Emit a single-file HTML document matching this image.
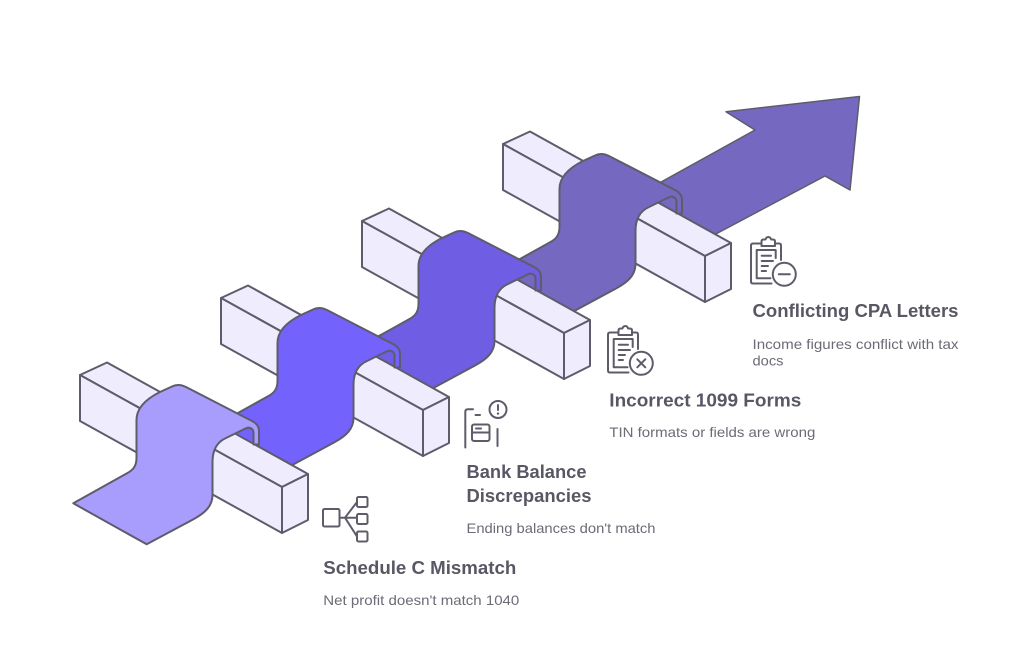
<!DOCTYPE html>
<html>
<head>
<meta charset="utf-8">
<style>
  html,body{margin:0;padding:0;background:#ffffff;}
  svg{display:block;}
  .blk polygon{fill:#efedfd;stroke:#5e5c6a;stroke-width:2;stroke-linejoin:round;}
  .rib{stroke:#5e5c6a;stroke-width:2;stroke-linejoin:round;}
  .ic{fill:none;stroke:#5e5c6a;stroke-width:2;stroke-linecap:round;stroke-linejoin:round;}
  .t{font-family:"Liberation Sans",Arial,sans-serif;font-weight:bold;font-size:18px;fill:#585764;}
  .d{font-family:"Liberation Sans",Arial,sans-serif;font-size:14px;fill:#6c6b76;}
</style>
</head>
<body>
<svg width="1024" height="663" viewBox="0 0 1024 663" xmlns="http://www.w3.org/2000/svg">
  <defs>
    <g id="block" class="blk">
      <polygon points="80,375 107,362.5 308,474 282,487"/>
      <polygon points="80,375 282,487 282,533 80,421"/>
      <polygon points="282,487 308,474 308,520 282,533"/>
    </g>
  </defs>

  <!-- Arrow (final ground segment) -->
  <path d="M 617.3 206.3 L 690.7 247.3 L 825 176 L 850 190 L 859.5 96.5 L 726 111.7 L 755 130 Z" fill="#7568c0" stroke="#5e5c6a" stroke-width="1.5" stroke-linejoin="round"/>

  <!-- Block 4 + ribbon 4 -->
  <use href="#block" transform="translate(423,-231)"/>
  <path class="rib" fill="#7568c0" transform="translate(423,-231)" d="M 53.3 514.3 L 126.7 555.3 L 193 519.5 C 205 513 212.5 506 212.5 495 L 212.5 462 C 212.5 450 217 442 226 438 L 245.5 428.5 C 249.5 426.5 253.5 428.5 253.5 433 L 253.5 444.5 L 259 444.5 L 259 431 C 259 426 256 423 252 421 L 186 387 C 181 384.5 176 384.5 172 386.5 L 160 392 C 146 399 136.5 408 136.5 420 L 136.5 458 C 136.5 466 133 470 127.5 473 Z"/>

  <!-- Block 3 + ribbon 3 -->
  <use href="#block" transform="translate(282,-154)"/>
  <path class="rib" fill="#6f5de3" transform="translate(282,-154)" d="M 53.3 514.3 L 126.7 555.3 L 193 519.5 C 205 513 212.5 506 212.5 495 L 212.5 462 C 212.5 450 217 442 226 438 L 245.5 428.5 C 249.5 426.5 253.5 428.5 253.5 433 L 253.5 444.5 L 259 444.5 L 259 431 C 259 426 256 423 252 421 L 186 387 C 181 384.5 176 384.5 172 386.5 L 160 392 C 146 399 136.5 408 136.5 420 L 136.5 458 C 136.5 466 133 470 127.5 473 Z"/>

  <!-- Block 2 + ribbon 2 -->
  <use href="#block" transform="translate(141,-77)"/>
  <path class="rib" fill="#7362fb" transform="translate(141,-77)" d="M 53.3 514.3 L 126.7 555.3 L 193 519.5 C 205 513 212.5 506 212.5 495 L 212.5 462 C 212.5 450 217 442 226 438 L 245.5 428.5 C 249.5 426.5 253.5 428.5 253.5 433 L 253.5 444.5 L 259 444.5 L 259 431 C 259 426 256 423 252 421 L 186 387 C 181 384.5 176 384.5 172 386.5 L 160 392 C 146 399 136.5 408 136.5 420 L 136.5 458 C 136.5 466 133 470 127.5 473 Z"/>

  <!-- Block 1 + ribbon 1 -->
  <use href="#block"/>
  <path class="rib" fill="#a89cfd" d="M 73.3 503.3 L 146.7 544.3 L 193 519.5 C 205 513 212.5 506 212.5 495 L 212.5 462 C 212.5 450 217 442 226 438 L 245.5 428.5 C 249.5 426.5 253.5 428.5 253.5 433 L 253.5 444.5 L 259 444.5 L 259 431 C 259 426 256 423 252 421 L 186 387 C 181 384.5 176 384.5 172 386.5 L 160 392 C 146 399 136.5 408 136.5 420 L 136.5 458 C 136.5 466 133 470 127.5 473 Z"/>

  <!-- Icon: Schedule C (hierarchy) -->
  <g class="ic">
    <rect x="323" y="509" width="16.5" height="17.5" rx="1.5"/>
    <rect x="357" y="497" width="10.5" height="10" rx="1.5"/>
    <rect x="357" y="514" width="10.5" height="10" rx="1.5"/>
    <rect x="357" y="531.5" width="10.5" height="10" rx="1.5"/>
    <path d="M 339.5 517.7 H 345 M 345 517.7 L 357 502 M 345 517.7 H 357 M 345 517.7 L 357 536.5"/>
  </g>

  <!-- Icon: Bank Balance -->
  <g class="ic">
    <path d="M 465.3 447.5 V 412 Q 465.3 409.3 468 409.3 H 473"/>
    <path d="M 475.5 415 H 480"/>
    <circle cx="498" cy="409.5" r="8.5"/>
    <path d="M 498 405 V 410"/>
    <rect x="472" y="424.5" width="17.5" height="16.5" rx="2"/>
    <path d="M 472 432.5 H 489.5 M 476 428.5 H 481"/>
    <path d="M 497.5 429 V 446"/>
  </g>
  <circle cx="498" cy="413.6" r="1.2" fill="#5e5c6a"/>

  <!-- Icon: Conflicting CPA Letters (clipboard minus) -->
  <g id="clip" class="ic">
    <path d="M 761.5 243.5 H 753 Q 751 243.5 751 245.5 V 281.5 Q 751 283.5 753 283.5 H 771.5"/>
    <path d="M 775 243.5 H 779 Q 781 243.5 781 245.5 V 260"/>
    <path d="M 761.5 246 V 241.5 Q 761.5 239.5 763.5 239.5 H 765.5 Q 766.3 237 768.3 237 Q 770.3 237 771.1 239.5 H 773 Q 775 239.5 775 241.5 V 246 Z"/>
    <path d="M 770.5 278.3 H 756.7 V 250 H 775.7 V 258"/>
    <path d="M 761.7 255.7 H 771 M 761.7 261 H 773 M 761.7 266 H 768 M 761.7 271 H 766"/>
  </g>
  <circle cx="784.3" cy="274.3" r="11.5" fill="#ffffff" stroke="#5e5c6a" stroke-width="2"/>
  <path d="M 778.8 274.3 H 789.8" class="ic"/>

  <!-- Icon: Incorrect 1099 Forms (clipboard x) -->
  <use href="#clip" transform="translate(-143,89)"/>
  <circle cx="641.3" cy="363.3" r="11.5" fill="#ffffff" stroke="#5e5c6a" stroke-width="2"/>
  <path d="M 637.3 359.3 L 645.3 367.3 M 645.3 359.3 L 637.3 367.3" class="ic"/>

  <!-- Text -->
  <text class="t" x="752.5" y="317" textLength="206" lengthAdjust="spacingAndGlyphs">Conflicting CPA Letters</text>
  <text class="d" x="752.5" y="349" textLength="206" lengthAdjust="spacingAndGlyphs">Income figures conflict with tax</text>
  <text class="d" x="752.5" y="365.5" textLength="31" lengthAdjust="spacingAndGlyphs">docs</text>

  <text class="t" x="609.3" y="406.7" textLength="192" lengthAdjust="spacingAndGlyphs">Incorrect 1099 Forms</text>
  <text class="d" x="609.3" y="437" textLength="206" lengthAdjust="spacingAndGlyphs">TIN formats or fields are wrong</text>

  <text class="t" x="466.5" y="478" textLength="120" lengthAdjust="spacingAndGlyphs">Bank Balance</text>
  <text class="t" x="466.5" y="502" textLength="125" lengthAdjust="spacingAndGlyphs">Discrepancies</text>
  <text class="d" x="466.5" y="533" textLength="189" lengthAdjust="spacingAndGlyphs">Ending balances don't match</text>

  <text class="t" x="323.3" y="574" textLength="193" lengthAdjust="spacingAndGlyphs">Schedule C Mismatch</text>
  <text class="d" x="323.3" y="605" textLength="196" lengthAdjust="spacingAndGlyphs">Net profit doesn't match 1040</text>
</svg>
</body>
</html>
